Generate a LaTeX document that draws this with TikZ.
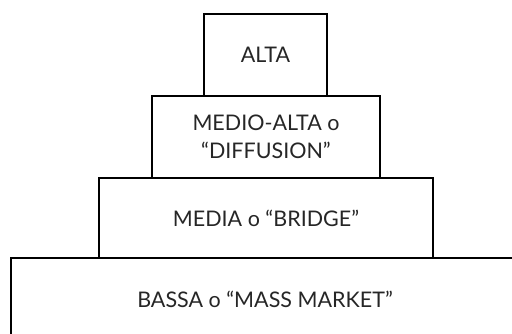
\documentclass[tikz,border=0pt]{standalone}
\usepackage{fontspec}
\setmainfont{Lato}
\begin{document}
\begin{tikzpicture}[x=1bp,y=1bp,
  tier/.style={draw=black, line width=1.6pt, inner sep=0pt, align=center,
    font=\fontsize{21.5bp}{28bp}\selectfont, text=black!85}]
  \useasboundingbox (0,0) rectangle (512,333);
  \clip (0,0) rectangle (512,333);
  % stacked tiers, widest at the bottom
  \node[tier, minimum width=508bp, minimum height=83bp] (bassa) at (265,33.5)
    {BASSA o “MASS MARKET”};
  \node[tier, minimum width=334bp, minimum height=80bp] (media) at (266,115)
    {MEDIA o “BRIDGE”};
  \node[tier, minimum width=228bp, minimum height=82bp] (medioalta) at (266,196)
    {MEDIO-ALTA o\\“DIFFUSION”};
  \node[tier, minimum width=123bp, minimum height=82bp] (alta) at (265.5,278)
    {ALTA};
\end{tikzpicture}
\end{document}
